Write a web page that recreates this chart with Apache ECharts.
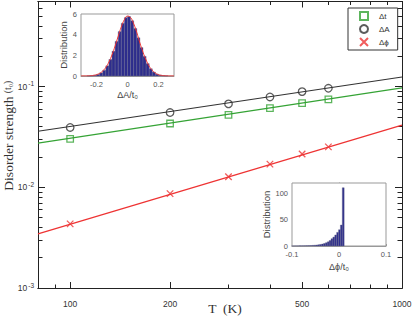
<!DOCTYPE html>
<html>
<head>
<meta charset="utf-8">
<script src="https://cdn.jsdelivr.net/npm/echarts@6/dist/echarts.min.js"></script>
<style>html,body{margin:0;padding:0;background:#fff}#c{width:415px;height:316px}</style>
</head>
<body>
<div id="c"></div>
<script>
// ---- main panel data ----
const temperatures = [100, 200, 300, 400, 500, 600];
const deltaT = [0.0303, 0.0430, 0.0524, 0.0610, 0.0684, 0.0748];
const deltaA = [0.0393, 0.0553, 0.0673, 0.0789, 0.0892, 0.0962];
const deltaPhi = [0.00433, 0.00865, 0.01274, 0.0170, 0.0214, 0.0252];
const fitT = [80, 1000];
const fitDeltaT = [0.0275, 0.097];
const fitDeltaA = [0.0360, 0.1245];
const fitDeltaPhi = [0.00345, 0.0414];
const xMajorTicks = [100, 200, 500, 1000];
const xMinorTicks = [90, 300, 400, 600, 700, 800, 900];
const yMajorTicks = [0.001, 0.01, 0.1];
const yMinorTicks = [0.002,0.003,0.004,0.005,0.006,0.007,0.008,0.009,
                     0.02,0.03,0.04,0.05,0.06,0.07,0.08,0.09,
                     0.2,0.3,0.4,0.5,0.6];
const seriesNames = ['Δt', 'ΔA', 'Δϕ'];

// ---- inset 1 (ΔA distribution) ----
const histACenters = [-0.25,-0.23,-0.21,-0.19,-0.17,-0.15,-0.13,-0.11,-0.09,-0.07,-0.05,-0.03,-0.01,
                      0.01,0.03,0.05,0.07,0.09,0.11,0.13,0.15,0.17,0.19,0.21,0.23,0.25];
const histAValues = [0.01,0.03,0.07,0.15,0.30,0.55,0.98,1.6,2.4,3.35,4.3,5.1,5.65,
                     5.75,5.35,4.6,3.7,2.75,1.9,1.2,0.7,0.38,0.18,0.08,0.035,0.012];
const curveAX = [-0.30,-0.28,-0.26,-0.24,-0.22,-0.20,-0.18,-0.16,-0.14,-0.12,-0.10,-0.08,-0.06,-0.04,-0.02,0,
                 0.02,0.04,0.06,0.08,0.10,0.12,0.14,0.16,0.18,0.20,0.22,0.24,0.26,0.28,0.30];
const curveAY = [0,0.003,0.01,0.025,0.06,0.13,0.26,0.48,0.83,1.35,2.05,2.9,3.85,4.75,5.45,5.8,
                 5.65,5.05,4.2,3.2,2.3,1.55,0.95,0.55,0.28,0.13,0.06,0.025,0.01,0.003,0];
const histABinWidth = 0.02;
const insetAXTicks = [-0.2, 0, 0.2];

// ---- inset 2 (Δϕ distribution) ----
const histPhiCenters = [-0.099,-0.095,-0.091,-0.087,-0.083,-0.079,-0.075,-0.071,-0.067,-0.063,-0.059,-0.055,
                        -0.051,-0.047,-0.043,-0.039,-0.035,-0.031,-0.027,-0.023,-0.019,-0.015,-0.011,-0.007,
                        -0.003,0.001,0.005,0.009];
const histPhiValues = [0.1,0.12,0.16,0.2,0.26,0.32,0.4,0.5,0.6,0.75,0.95,1.2,
                       1.5,1.9,2.4,3.0,3.8,4.8,6.2,8,10.5,14,17,21,
                       26,31,40,111];
const histPhiBinWidth = 0.004;
const insetPhiYTicks = [0, 50, 100];

const green = '#35a335', black = '#333333', red = '#ee3333', navy = '#2d2d8c';
const sans = 'Liberation Sans', serif = 'Liberation Serif';

function zip(a, b) { return a.map((v, i) => [v, b[i]]); }
function histRender(binWidth) {
  return function (params, api) {
    const x = api.value(0), y = api.value(1);
    const p0 = api.coord([x - binWidth / 2, y]);
    const p1 = api.coord([x + binWidth / 2, 0]);
    return {type: 'rect', shape: {x: p0[0], y: p0[1], width: p1[0] - p0[0], height: p1[1] - p0[1]},
            style: {fill: navy, stroke: '#6a6a8a', lineWidth: 0.4}};
  };
}

function mainX(position, ticks, len, extra) {
  return Object.assign({
    type: 'log', logBase: 10, gridIndex: 0, min: 80, max: 1000, position: position,
    axisLine: {show: true, lineStyle: {color: '#222', width: 1}},
    axisTick: {show: true, inside: true, length: len, customValues: ticks, lineStyle: {color: '#222', width: 1}},
    axisLabel: {show: false}, splitLine: {show: false}, minorTick: {show: false}
  }, extra || {});
}
function mainY(position, ticks, len, extra) {
  return Object.assign({
    type: 'log', logBase: 10, gridIndex: 0, min: 0.001, max: 0.7, position: position,
    axisLine: {show: true, lineStyle: {color: '#222', width: 1}},
    axisTick: {show: true, inside: true, length: len, customValues: ticks, lineStyle: {color: '#222', width: 1}},
    axisLabel: {show: false}, splitLine: {show: false}, minorTick: {show: false}
  }, extra || {});
}

const chart = echarts.init(document.getElementById('c'), null, {renderer: 'svg'});
chart.setOption({
  animation: false,
  backgroundColor: '#fff',
  grid: [
    {left: 38, right: 13, top: 1.5, bottom: 28, outerBoundsMode: 'none', containLabel: false},
    {left: 81, top: 14, width: 93, height: 62, show: true, backgroundColor: '#fff', borderColor: '#999', borderWidth: 1, z: 3,
     outerBoundsMode: 'none', containLabel: false},
    {left: 292, top: 183, width: 94, height: 63, show: true, backgroundColor: '#fff', borderColor: '#999', borderWidth: 1, z: 3,
     outerBoundsMode: 'none', containLabel: false}
  ],
  legend: {
    data: seriesNames, orient: 'vertical', left: 348, top: 8,
    padding: [3, 8, 3, 11], itemGap: 3, itemWidth: 8, itemHeight: 8,
    borderColor: '#333', borderWidth: 1, backgroundColor: '#fff',
    textStyle: {fontSize: 8, color: '#333', fontFamily: sans, padding: [0, 0, 0, 6]}
  },
  xAxis: [
    mainX('bottom', xMajorTicks, 6, {
      axisLabel: {show: true, customValues: xMajorTicks, margin: 11.5, fontSize: 8.5, color: '#333', fontFamily: sans,
                  formatter: v => String(Math.round(v))},
      name: 'T  (K)', nameLocation: 'middle', nameGap: 13, nameMoveOverlap: false,
      nameTextStyle: {fontFamily: serif, fontSize: 13.5, color: '#333', padding: [0, 0, 0, 10], verticalAlign: 'top'}
    }),
    mainX('bottom', xMinorTicks, 3.5),
    mainX('top', xMajorTicks, 6),
    mainX('top', xMinorTicks, 3.5),
    {type: 'value', gridIndex: 1, min: -0.3, max: 0.3,
     axisLine: {show: true, lineStyle: {color: '#999', width: 1}},
     axisTick: {show: true, inside: true, length: 2, customValues: insetAXTicks, lineStyle: {color: '#999'}},
     axisLabel: {customValues: insetAXTicks, fontSize: 7.5, color: '#555', margin: 4, fontFamily: sans},
     splitLine: {show: false},
     name: 'ΔA/t₀', nameLocation: 'middle', nameGap: 14, nameMoveOverlap: false,
     nameTextStyle: {fontSize: 9, color: '#444', fontFamily: sans}},
    {type: 'value', gridIndex: 2, min: -0.1, max: 0.1, interval: 0.1,
     axisLine: {show: true, lineStyle: {color: '#999', width: 1}},
     axisTick: {show: true, inside: true, length: 2, lineStyle: {color: '#999'}},
     axisLabel: {fontSize: 7.5, color: '#555', margin: 4, fontFamily: sans},
     splitLine: {show: false},
     name: 'Δϕ/t₀', nameLocation: 'middle', nameGap: 16, nameMoveOverlap: false,
     nameTextStyle: {fontSize: 9, color: '#444', fontFamily: sans}}
  ],
  yAxis: [
    mainY('left', yMajorTicks, 7, {
      axisLabel: {show: true, customValues: yMajorTicks, margin: 4, color: '#333', fontFamily: sans,
        formatter: v => '{b|10}{s|' + Math.round(Math.log10(v)) + '}',
        rich: {b: {fontSize: 8.5, color: '#333', fontFamily: sans},
               s: {fontSize: 6.5, color: '#333', fontFamily: sans, padding: [0, 0, 6, 1]}}},
      name: 'Disorder strength {s|(t₀)}', nameLocation: 'middle', nameGap: 23, nameRotate: 90, nameMoveOverlap: false,
      nameTextStyle: {fontFamily: serif, fontSize: 13.5, color: '#333', padding: [0, 0, 0, 18],
        rich: {s: {fontFamily: serif, fontSize: 9.5, color: '#333'}}}
    }),
    mainY('left', yMinorTicks, 4.5),
    mainY('right', yMajorTicks, 7),
    mainY('right', yMinorTicks, 4.5),
    {type: 'value', gridIndex: 1, min: 0, max: 6, interval: 2,
     axisLine: {show: true, lineStyle: {color: '#999', width: 1}},
     axisTick: {show: true, inside: true, length: 2, lineStyle: {color: '#999'}},
     axisLabel: {fontSize: 7.5, color: '#555', margin: 4, fontFamily: sans},
     splitLine: {show: false},
     name: 'Distribution', nameLocation: 'middle', nameGap: 13, nameMoveOverlap: false,
     nameTextStyle: {fontSize: 9.5, color: '#444', fontFamily: sans}},
    {type: 'value', gridIndex: 2, min: 0, max: 120,
     axisLine: {show: true, lineStyle: {color: '#999', width: 1}},
     axisTick: {show: true, inside: true, length: 2, customValues: insetPhiYTicks, lineStyle: {color: '#999'}},
     axisLabel: {customValues: insetPhiYTicks, fontSize: 7.5, color: '#555', margin: 4, fontFamily: sans},
     splitLine: {show: false},
     name: 'Distribution', nameLocation: 'middle', nameGap: 21, nameMoveOverlap: false,
     nameTextStyle: {fontSize: 9.5, color: '#444', fontFamily: sans}}
  ],
  series: [
    {type: 'line', name: 'fitΔt', xAxisIndex: 0, yAxisIndex: 0, data: zip(fitT, fitDeltaT), showSymbol: false,
     lineStyle: {color: green, width: 1.2}, itemStyle: {color: green}, silent: true, z: 2},
    {type: 'line', name: 'fitΔA', xAxisIndex: 0, yAxisIndex: 0, data: zip(fitT, fitDeltaA), showSymbol: false,
     lineStyle: {color: black, width: 1.2}, itemStyle: {color: black}, silent: true, z: 2},
    {type: 'line', name: 'fitΔϕ', xAxisIndex: 0, yAxisIndex: 0, data: zip(fitT, fitDeltaPhi), showSymbol: false,
     lineStyle: {color: red, width: 1.2}, itemStyle: {color: red}, silent: true, z: 2},
    {type: 'scatter', name: seriesNames[0], xAxisIndex: 0, yAxisIndex: 0, data: zip(temperatures, deltaT),
     symbol: 'rect', symbolSize: 6.5, itemStyle: {color: 'rgba(0,0,0,0)', borderColor: green, borderWidth: 1.3}, z: 3},
    {type: 'scatter', name: seriesNames[1], xAxisIndex: 0, yAxisIndex: 0, data: zip(temperatures, deltaA),
     symbol: 'circle', symbolSize: 7.5, itemStyle: {color: 'rgba(0,0,0,0)', borderColor: black, borderWidth: 1.3}, z: 3},
    {type: 'scatter', name: seriesNames[2], xAxisIndex: 0, yAxisIndex: 0, data: zip(temperatures, deltaPhi),
     symbol: 'path://M0,0L10,10M10,0L0,10', symbolSize: 6.5,
     itemStyle: {color: 'rgba(0,0,0,0)', borderColor: red, borderWidth: 1.3}, z: 3},
    {type: 'custom', xAxisIndex: 4, yAxisIndex: 4, data: zip(histACenters, histAValues),
     renderItem: histRender(histABinWidth), silent: true, z: 5},
    {type: 'line', xAxisIndex: 4, yAxisIndex: 4, data: zip(curveAX, curveAY), smooth: true, showSymbol: false,
     lineStyle: {color: red, width: 1}, silent: true, z: 6},
    {type: 'custom', xAxisIndex: 5, yAxisIndex: 5, data: zip(histPhiCenters, histPhiValues),
     renderItem: histRender(histPhiBinWidth), silent: true, z: 5}
  ]
});
</script>
</body>
</html>
